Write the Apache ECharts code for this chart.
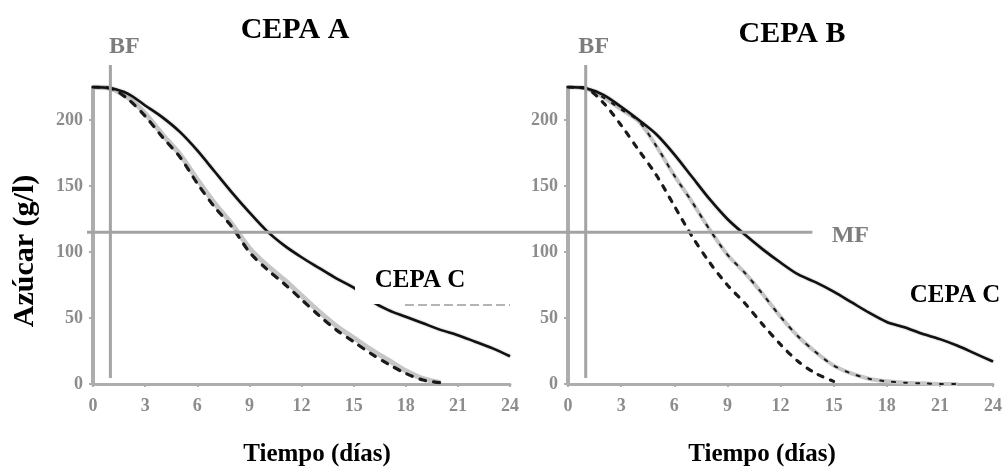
<!DOCTYPE html>
<html>
<head>
<meta charset="utf-8">
<script src="https://cdn.jsdelivr.net/npm/echarts@6/dist/echarts.min.js"></script>
<style>
html, body { margin: 0; padding: 0; background: #fff; }
#main { width: 1006px; height: 470px; }
</style>
</head>
<body>
<div id="main"></div>
<script>
// datos (días / azúcar g/l)
const days = [0,1,2,3,4,5,6,7,8,9,10,11,12,13,14,15,16,17,18,19,20,21,22,23,24];
const xTicks = [0,3,6,9,12,15,18,21,24];
const yTicks = [0,50,100,150,200];

// CEPA A (panel izquierdo)
const aSolid = [225,224,220,211,202,191,177,161,145,130,116,105,96,88,80,73,63,56,51,46,41,37,32,27,21];
const aGray  = [225,224,217,205,189,174,155,137,121,103,90,79,67,55,44,35,26,18,10,4,1];
const aDash  = [225,224,216,203,187,172,152,134,119,100,87,76,64,52,41,32,23,15,8,3,1];

// CEPA B (panel derecho)
const bSolid = [225,224,219,210,200,189,174,157,140,125,113,102,92,83,77,70,62,54,47,43,38,34,29,23,17];
const bMid   = [225,224,217,208,199,180,158,138,117,98,84,68,51,36,24,14,8,4,2,1,0.5,0,0];
const bDash  = [225,224,213,196,177,158,135,112,92,75,61,45,30,17,8,2];

const bfDay = 1;      // BF
const mfSugar = 115;  // MF
const mfEndDay = 13.8;

const SERIF = '"Liberation Serif", "DejaVu Serif", serif';
const AXIS_GRAY = '#adadad';
const LABEL_GRAY = '#8c8c8c';

const pairs = vals => vals.map((v, i) => [days[i], v]);

function xAxisCfg(gridIndex) {
    return {
        type: 'value', gridIndex, min: 0, max: 24, interval: 3,
        axisLine: { show: true, lineStyle: { color: AXIS_GRAY, width: 3 } },
        axisTick: { show: true, length: 3, customValues: xTicks, lineStyle: { color: AXIS_GRAY, width: 2 } },
        axisLabel: { customValues: xTicks, margin: 13, color: LABEL_GRAY, fontFamily: SERIF, fontWeight: 'bold', fontSize: 18 },
        splitLine: { show: false }
    };
}
function yAxisCfg(gridIndex) {
    return {
        type: 'value', gridIndex, min: 0, max: 225, interval: 50,
        axisLine: { show: true, lineStyle: { color: AXIS_GRAY, width: 4 } },
        axisTick: { show: true, length: 4, customValues: yTicks, lineStyle: { color: AXIS_GRAY, width: 2 } },
        axisLabel: { customValues: yTicks, margin: 10, color: LABEL_GRAY, fontFamily: SERIF, fontWeight: 'bold', fontSize: 18 },
        splitLine: { show: false }
    };
}
function solid(idx, vals) {
    return { type: 'line', xAxisIndex: idx, yAxisIndex: idx, data: pairs(vals), smooth: 0.3, showSymbol: false,
        lineStyle: { color: '#111', width: 2.6, shadowColor: 'rgba(0,0,0,0.35)', shadowBlur: 2 }, z: 5 };
}
function grayBand(idx, vals, width) {
    return { type: 'line', xAxisIndex: idx, yAxisIndex: idx, data: pairs(vals), smooth: 0.3, showSymbol: false,
        lineStyle: { color: '#c6c6c6', width: width }, z: 3 };
}
function dashed(idx, vals, dash, width) {
    return { type: 'line', xAxisIndex: idx, yAxisIndex: idx, data: pairs(vals), smooth: 0.3, showSymbol: false,
        lineStyle: { color: '#1a1a1a', width: width, type: dash, cap: 'round' }, z: 4 };
}

const chart = echarts.init(document.getElementById('main'));
chart.setOption({
    animation: false,
    title: [
        { text: 'CEPA A', left: 290, top: 10, textAlign: 'center', textStyle: { fontFamily: SERIF, fontSize: 30, fontWeight: 'bold', color: '#000' } },
        { text: 'CEPA B', left: 787, top: 14, textAlign: 'center', textStyle: { fontFamily: SERIF, fontSize: 30, fontWeight: 'bold', color: '#000' } }
    ],
    grid: [
        { left: 93, right: 496, top: 87, bottom: 86 },
        { left: 568, right: 13, top: 87, bottom: 86 }
    ],
    xAxis: [xAxisCfg(0), xAxisCfg(1)],
    yAxis: [yAxisCfg(0), yAxisCfg(1)],
    series: [
        solid(0, aSolid),
        grayBand(0, aGray, 5),
        dashed(0, aDash, [6, 8], 3.2),
        solid(1, bSolid),
        grayBand(1, bMid, 4),
        dashed(1, bMid, [3, 9], 2),
        dashed(1, bDash, [5, 8], 3.2)
    ]
});

// líneas de referencia BF / MF y rótulos
const bfA0 = chart.convertToPixel({ gridIndex: 0 }, [bfDay, 0]);
const bfB0 = chart.convertToPixel({ gridIndex: 1 }, [bfDay, 0]);
const mfL = chart.convertToPixel({ gridIndex: 0 }, [0, mfSugar]);
const mfR = chart.convertToPixel({ gridIndex: 1 }, [mfEndDay, mfSugar]);
const refStyle = { stroke: '#a3a3a3', lineWidth: 3 };
const txt = (text, x, y, size, color, extra) => Object.assign({
    type: 'text', z: 120, x: x, y: y,
    style: { text, x: 0, y: 0, font: 'bold ' + size + 'px ' + SERIF, fill: color,
        textAlign: 'center', textVerticalAlign: 'middle', align: 'center', verticalAlign: 'middle' }
}, extra || {});

chart.setOption({
    graphic: [
        { type: 'line', z: 50, shape: { x1: bfA0[0], y1: 65, x2: bfA0[0], y2: bfA0[1] - 6 }, style: refStyle },
        { type: 'line', z: 50, shape: { x1: bfB0[0], y1: 65, x2: bfB0[0], y2: bfB0[1] - 6 }, style: refStyle },
        { type: 'line', z: 50, shape: { x1: mfL[0] - 6, y1: mfL[1], x2: mfR[0], y2: mfR[1] }, style: refStyle },
        txt('BF', bfA0[0] + 14, 47, 24, '#7d7d7d'),
        txt('BF', bfB0[0] + 8, 47, 24, '#7d7d7d'),
        txt('MF', mfR[0] + 38, mfR[1] + 4, 24, '#7d7d7d'),
        { type: 'rect', z: 110, shape: { x: 355, y: 262, width: 156, height: 42 }, style: { fill: '#fff' } },
        { type: 'line', z: 111, shape: { x1: 405, y1: 305, x2: 510, y2: 305 }, style: { stroke: '#6a6a6a', lineWidth: 1.2, lineDash: [9, 4] } },
        txt('CEPA C', 420, 281, 25, '#000'),
        txt('CEPA C', 955, 296, 25, '#000'),
        txt('Azúcar (g/l)', 25, 251, 30, '#000', { rotation: Math.PI / 2 }),
        txt('Tiempo (días)', 317, 455, 25, '#000'),
        txt('Tiempo (días)', 762, 455, 25, '#000')
    ]
});
</script>
</body>
</html>
